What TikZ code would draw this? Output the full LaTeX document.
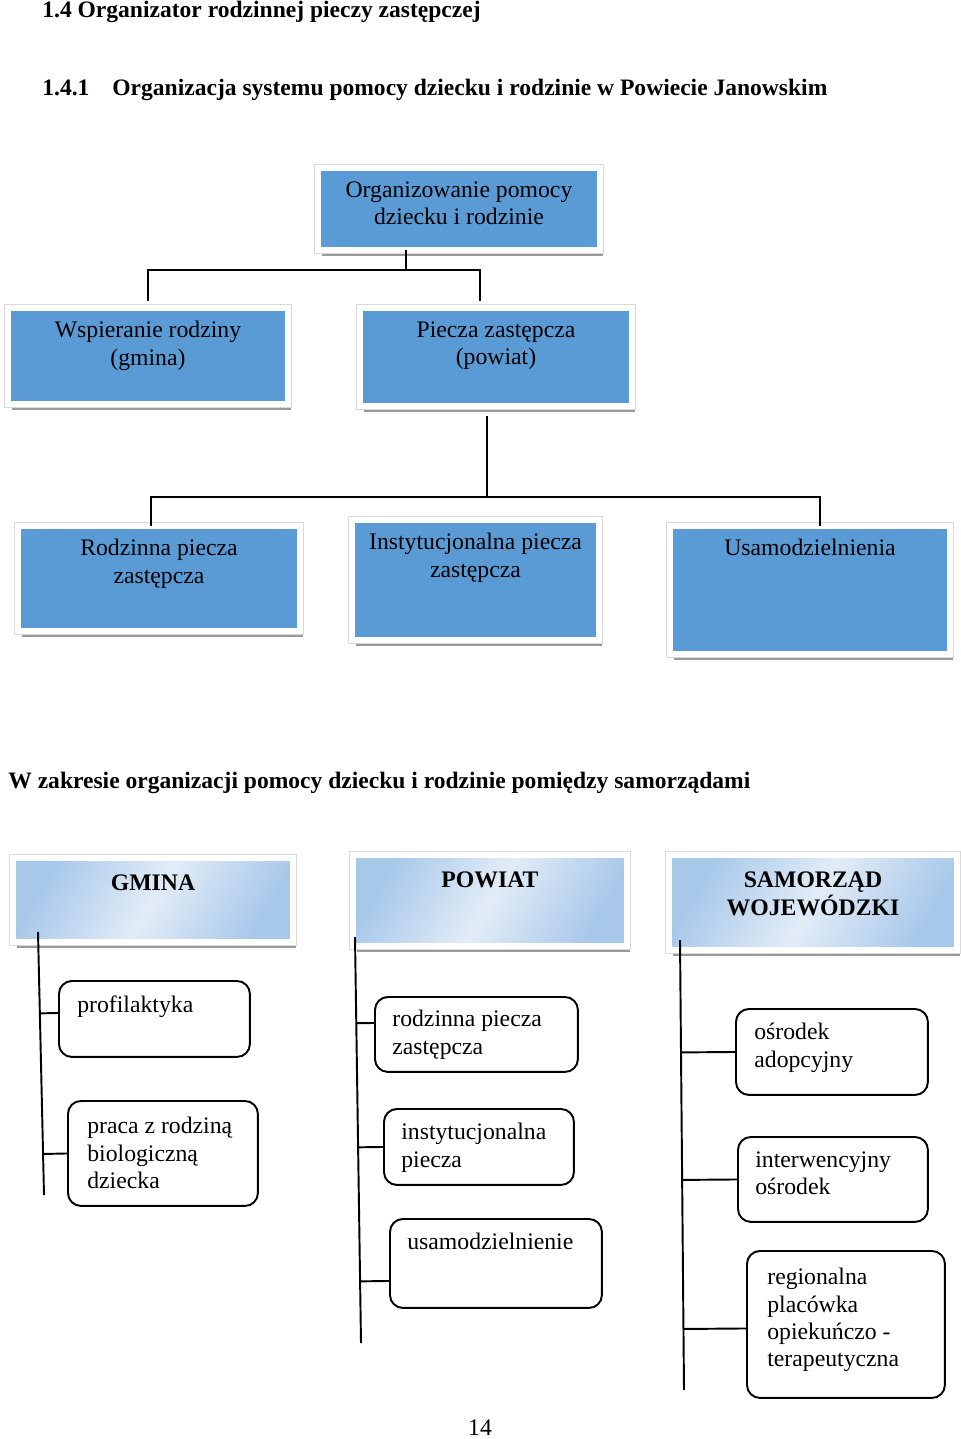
\documentclass[tikz,border=0pt]{standalone}
\usepackage{fontspec}
\setmainfont{Liberation Serif}
\usetikzlibrary{positioning,shadows,calc}

\definecolor{boxblue}{RGB}{91,155,213}
\definecolor{headblue}{RGB}{168,200,234}
\definecolor{headlight}{RGB}{226,236,247}

\tikzset{
  bluebox/.style={anchor=north west, inner sep=0pt, outer sep=0pt,
    drop shadow={shadow xshift=2pt, shadow yshift=-3.5pt, fill=black!40, opacity=1},
    preaction={draw=black!15, line width=4.2pt},
    fill=boxblue, draw=white, line width=3pt},
  headbox/.style={bluebox, left color=headblue, right color=headblue,
    middle color=headlight, shading angle=60},
  roundbox/.style={anchor=north west, inner sep=0pt, draw, line width=1.1pt,
    rounded corners=0.26cm},
  boxtext/.style={inner sep=0pt, align=center, font=\fontsize{13.5}{15.8}\selectfont},
  headtext/.style={inner sep=0pt, align=center, font=\bfseries\fontsize{13.5}{15.8}\selectfont},
  itemtext/.style={inner sep=0pt, align=left, font=\fontsize{13.5}{15.5}\selectfont},
  titletext/.style={inner sep=0pt, anchor=west, font=\bfseries\fontsize{13.4}{16}\selectfont},
  conn/.style={line width=1.1pt}
}

\begin{document}
\begin{tikzpicture}[x=0.02cm, y=-0.02cm]
  \useasboundingbox (0,0) rectangle (960,1439);

  % titles
  \node[titletext] (title1) at (42,12) {1.4 Organizator rodzinnej pieczy zastępczej};
  \node[titletext] (title2) at (42,90) {1.4.1\hspace{0.46cm}Organizacja systemu pomocy dziecku i rodzinie w Powiecie Janowskim};

  % first chart
  \node[bluebox, minimum width=5.64cm, minimum height=1.64cm] (top) at (318,168) {};
  \node[boxtext, below=0.26cm of top.north] (top-t) {Organizowanie pomocy\\dziecku i rodzinie};

  \node[bluebox, minimum width=5.6cm, minimum height=1.92cm] (wsp) at (8,308) {};
  \node[boxtext, below=0.26cm of wsp.north] (wsp-t) {Wspieranie rodziny\\(gmina)};

  \node[bluebox, minimum width=5.44cm, minimum height=1.96cm] (pz) at (360,308) {};
  \node[boxtext, below=0.26cm of pz.north] (pz-t) {Piecza zastępcza\\(powiat)};

  \node[bluebox, minimum width=5.64cm, minimum height=2.1cm] (rod) at (18,526) {};
  \node[boxtext, below=0.26cm of rod.north] (rod-t) {Rodzinna piecza\\zastępcza};

  \node[bluebox, minimum width=4.94cm, minimum height=2.4cm] (inst) at (352,520) {};
  \node[boxtext, below=0.26cm of inst.north] (inst-t) {Instytucjonalna piecza\\zastępcza};

  \node[bluebox, minimum width=5.6cm, minimum height=2.56cm] (usam) at (670,526) {};
  \node[boxtext, below=0.26cm of usam.north] (usam-t) {Usamodzielnienia};

  \draw[conn] ([xshift=-1.06cm]top.south) -- ++(0,20) coordinate (hub1);
  \draw[conn] ([yshift=0.15cm]wsp.north) |- (hub1) -| ([xshift=-0.32cm,yshift=0.15cm]pz.north);
  \draw[conn] ([xshift=-0.18cm,yshift=-0.2cm]pz.south) -- ++(0,81) coordinate (hub2);
  \draw[conn] ([xshift=-0.16cm]rod.north) |- (hub2) -| ([xshift=0.2cm]usam.north);

  % second chart
  \node[titletext] (zakres) at (8,783) {W zakresie organizacji pomocy dziecku i rodzinie pomiędzy samorządami};

  \node[headbox, minimum width=5.6cm, minimum height=1.68cm] (gmina) at (13,858) {};
  \node[headtext, below=0.33cm of gmina.north] (gmina-t) {GMINA};

  \node[headbox, minimum width=5.48cm, minimum height=1.82cm] (powiat) at (353,855) {};
  \node[headtext, below=0.33cm of powiat.north] (powiat-t) {POWIAT};

  \node[headbox, minimum width=5.76cm, minimum height=1.9cm] (samorzad) at (669,855) {};
  \node[headtext, below=0.33cm of samorzad.north] (samorzad-t) {SAMORZĄD\\WOJEWÓDZKI};

  \node[roundbox, minimum width=3.82cm, minimum height=1.52cm] (prof) at (58,980) {};
  \node[itemtext, below right=0.3cm and 0.38cm of prof.north west] (prof-t) {profilaktyka};

  \node[roundbox, minimum width=3.8cm, minimum height=2.1cm] (praca) at (67,1100) {};
  \node[itemtext, below right=0.34cm and 0.4cm of praca.north west] (praca-t) {praca z rodziną\\biologiczną\\dziecka};

  \node[roundbox, minimum width=4.06cm, minimum height=1.5cm] (rodz) at (374,996) {};
  \node[itemtext, below right=0.28cm and 0.36cm of rodz.north west] (rodz-t) {rodzinna piecza\\zastępcza};

  \node[roundbox, minimum width=3.8cm, minimum height=1.52cm] (instyt) at (383,1108) {};
  \node[itemtext, below right=0.3cm and 0.36cm of instyt.north west] (instyt-t) {instytucjonalna\\piecza};

  \node[roundbox, minimum width=4.24cm, minimum height=1.78cm] (usamo) at (389,1218) {};
  \node[itemtext, below right=0.3cm and 0.36cm of usamo.north west] (usamo-t) {usamodzielnienie};

  \node[roundbox, minimum width=3.84cm, minimum height=1.72cm] (adop) at (735,1008) {};
  \node[itemtext, below right=0.3cm and 0.38cm of adop.north west] (adop-t) {ośrodek\\adopcyjny};

  \node[roundbox, minimum width=3.8cm, minimum height=1.7cm] (interw) at (737,1136) {};
  \node[itemtext, below right=0.3cm and 0.36cm of interw.north west] (interw-t) {interwencyjny\\ośrodek};

  \node[roundbox, minimum width=3.96cm, minimum height=2.94cm] (region) at (746,1250) {};
  \node[itemtext, below right=0.36cm and 0.42cm of region.north west] (region-t) {regionalna\\placówka\\opiekuńczo -\\terapeutyczna};

  % trunks and branches
  \coordinate (g1) at (38,932);  \coordinate (g2) at (44,1195);
  \coordinate (p1) at (355,937); \coordinate (p2) at (361,1343);
  \coordinate (s1) at (680,940); \coordinate (s2) at (684,1390);
  \draw[conn] (g1) -- (g2);
  \draw[conn] (p1) -- (p2);
  \draw[conn] (s1) -- (s2);

  \draw[conn] ([yshift=0.12cm]prof.west) -- ($(g1)!([yshift=0.12cm]prof.west)!(g2)$);
  \draw[conn] (praca.west) -- ($(g1)!(praca.west)!(g2)$);
  \draw[conn] ([yshift=0.23cm]rodz.west) -- ($(p1)!([yshift=0.23cm]rodz.west)!(p2)$);
  \draw[conn] (instyt.west) -- ($(p1)!(instyt.west)!(p2)$);
  \draw[conn] ([yshift=-0.35cm]usamo.west) -- ($(p1)!([yshift=-0.35cm]usamo.west)!(p2)$);
  \draw[conn] (adop.west) -- ($(s1)!(adop.west)!(s2)$);
  \draw[conn] (interw.west) -- ($(s1)!(interw.west)!(s2)$);
  \draw[conn] ([yshift=-0.08cm]region.west) -- ($(s1)!([yshift=-0.08cm]region.west)!(s2)$);

  \node[boxtext] (page) at (480,1428) {14};
\end{tikzpicture}
\end{document}
